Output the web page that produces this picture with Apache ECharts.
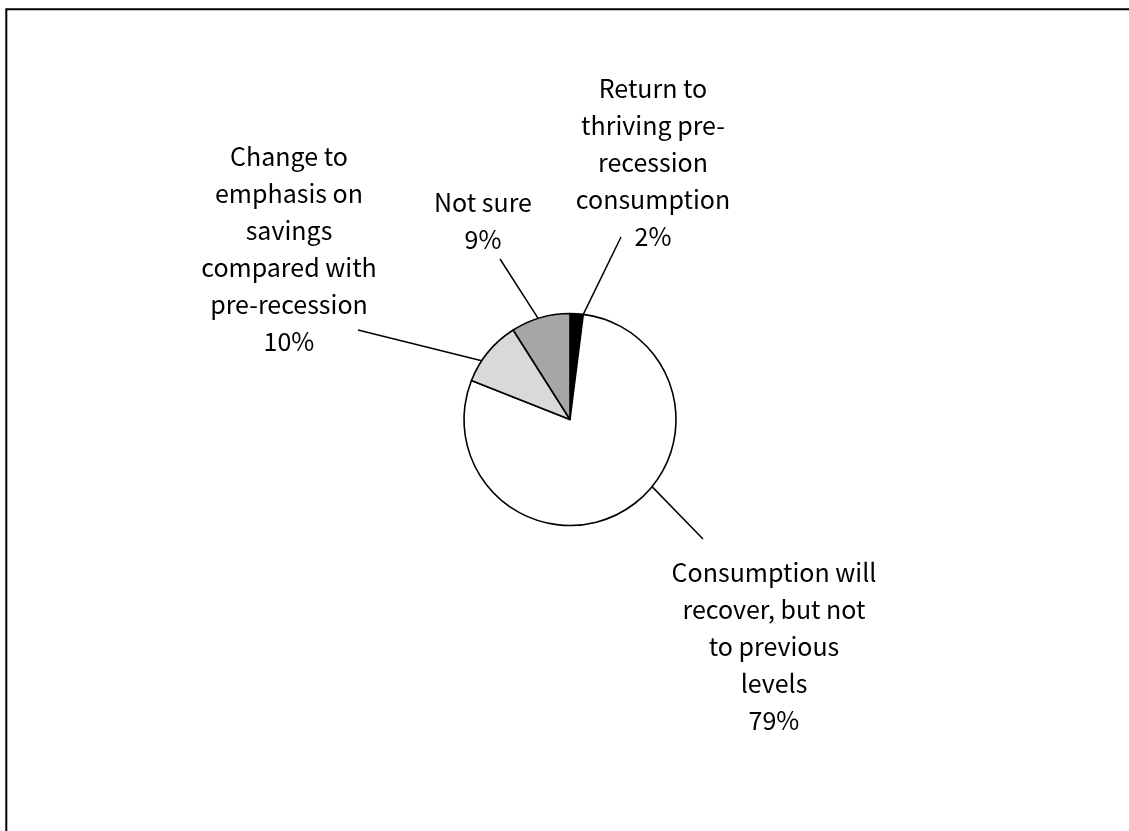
<!DOCTYPE html>
<html>
<head>
<meta charset="utf-8">
<style>
  html, body { margin: 0; padding: 0; background: #ffffff; }
  #chart { width: 1129px; height: 831px; }
</style>
<script src="https://cdn.jsdelivr.net/npm/echarts@6/dist/echarts.min.js"></script>
</head>
<body>
<div id="chart"></div>
<script>
// Survey answers, clockwise from 12 o'clock
const categories = [
  'Return to\nthriving pre-\nrecession\nconsumption',
  'Consumption will\nrecover, but not\nto previous\nlevels',
  'Change to\nemphasis on\nsavings\ncompared with\npre-recession',
  'Not sure'
];
const shares = [2, 79, 10, 9];            // percent of respondents
const sliceColors = ['#000000', '#ffffff', '#d9d9d9', '#a6a6a6'];

// Pie placement
const PIE_CENTER = [570, 419.5];
const PIE_RADIUS = 106;

// Label block centres, leader-line end points next to each label,
// and the angle (degrees clockwise from 12 o'clock) where each leader leaves the rim
const labelCentres = [[653, 162], [774, 646], [289, 249], [483, 221]];
const leaderEnds = [[621, 237], [703, 539], [358, 330], [500, 259]];
const leaderAngles = [7.2, 129.3, 303.6, 342.5];

const FONT = '"Noto Sans CJK JP", "DejaVu Sans", sans-serif';

function rimPoint(deg) {
  const a = deg * Math.PI / 180;
  return [PIE_CENTER[0] + PIE_RADIUS * Math.sin(a), PIE_CENTER[1] - PIE_RADIUS * Math.cos(a)];
}

const chart = echarts.init(document.getElementById('chart'), null, { renderer: 'canvas' });

chart.setOption({
  backgroundColor: '#ffffff',
  animation: false,
  graphic: [{
    type: 'rect',
    silent: true,
    shape: { x: 6.3, y: 9.2, width: 1140, height: 840 },
    style: { fill: 'none', stroke: '#000000', lineWidth: 2 }
  }],
  series: [{
    type: 'pie',
    center: PIE_CENTER,
    radius: PIE_RADIUS,
    startAngle: 90,
    clockwise: true,
    avoidLabelOverlap: false,
    emphasis: { disabled: true },
    itemStyle: { borderColor: '#000000', borderWidth: 1.6 },
    label: {
      show: true,
      position: 'outside',
      formatter: p => p.name + '\n' + p.value + '%',
      color: '#000000',
      fontFamily: FONT,
      fontSize: 25,
      lineHeight: 37,
      align: 'center'
    },
    labelLine: {
      show: true,
      length: 0,
      length2: 0,
      lineStyle: { color: '#000000', width: 1.5 }
    },
    labelLayout: params => {
      const i = params.dataIndex;
      return {
        x: labelCentres[i][0],
        y: labelCentres[i][1],
        align: 'center',
        verticalAlign: 'middle',
        labelLinePoints: [rimPoint(leaderAngles[i]), leaderEnds[i]]
      };
    },
    data: categories.map((name, i) => ({
      name: name,
      value: shares[i],
      itemStyle: { color: sliceColors[i] }
    }))
  }]
});
</script>
</body>
</html>
